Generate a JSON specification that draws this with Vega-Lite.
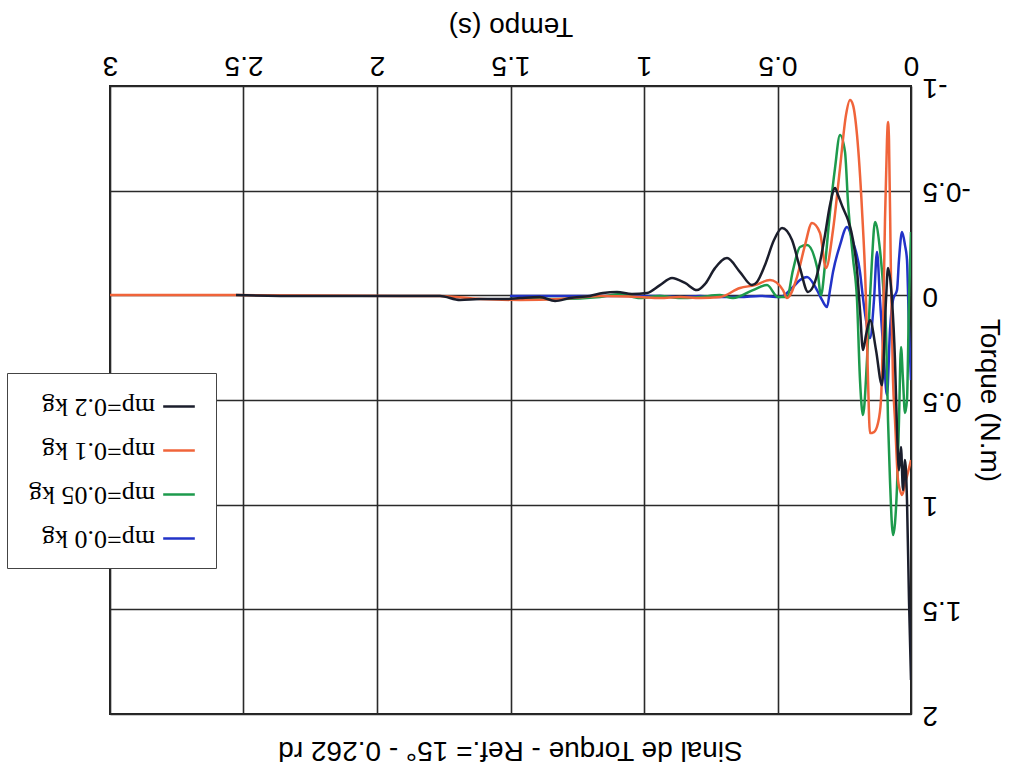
{
  "$schema": "https://vega.github.io/schema/vega-lite/v6.json",
  "width": 801,
  "height": 628,
  "autosize": {"type": "none"},
  "padding": {"left": 110, "top": 86, "right": 99, "bottom": 55},
  "background": "white",
  "title": {"text": "Sinal de Torque - Ref.= 15° - 0.262 rd", "orient": "bottom", "angle": 180, "baseline": "bottom", "anchor": "middle", "frame": "group", "font": "Liberation Sans", "fontSize": 28, "fontWeight": "normal", "color": "black", "offset": 8},
  "config": {"view": {"stroke": "#222", "strokeWidth": 2}},
  "data": {"values": [
    {"s":"mp=0.0 kg","t":0,"v":0.405},{"s":"mp=0.0 kg","t":0.0075,"v":0.166},{"s":"mp=0.0 kg","t":0.015,"v":-0.169},{"s":"mp=0.0 kg","t":0.0225,"v":-0.24},{"s":"mp=0.0 kg","t":0.0337,"v":-0.302},{"s":"mp=0.0 kg","t":0.045,"v":-0.169},{"s":"mp=0.0 kg","t":0.0524,"v":-0.025},{"s":"mp=0.0 kg","t":0.0674,"v":0.022},{"s":"mp=0.0 kg","t":0.0787,"v":0.166},{"s":"mp=0.0 kg","t":0.0899,"v":0.476},{"s":"mp=0.0 kg","t":0.1011,"v":0.309},{"s":"mp=0.0 kg","t":0.1161,"v":0.022},{"s":"mp=0.0 kg","t":0.1273,"v":-0.207},{"s":"mp=0.0 kg","t":0.1386,"v":0.022},{"s":"mp=0.0 kg","t":0.1536,"v":0.204},{"s":"mp=0.0 kg","t":0.1685,"v":0.118},{"s":"mp=0.0 kg","t":0.1798,"v":0.013},{"s":"mp=0.0 kg","t":0.191,"v":-0.111},{"s":"mp=0.0 kg","t":0.2172,"v":-0.255},{"s":"mp=0.0 kg","t":0.2397,"v":-0.326},{"s":"mp=0.0 kg","t":0.2659,"v":-0.24},{"s":"mp=0.0 kg","t":0.2921,"v":-0.111},{"s":"mp=0.0 kg","t":0.3034,"v":-0.025},{"s":"mp=0.0 kg","t":0.3146,"v":0.056},{"s":"mp=0.0 kg","t":0.3333,"v":0.022},{"s":"mp=0.0 kg","t":0.3521,"v":-0.025},{"s":"mp=0.0 kg","t":0.3895,"v":-0.087},{"s":"mp=0.0 kg","t":0.4157,"v":-0.073},{"s":"mp=0.0 kg","t":0.4419,"v":-0.04},{"s":"mp=0.0 kg","t":0.4906,"v":0.008},{"s":"mp=0.0 kg","t":0.5655,"v":0.003},{"s":"mp=0.0 kg","t":0.6404,"v":0.008},{"s":"mp=0.0 kg","t":0.7154,"v":0.008},{"s":"mp=0.0 kg","t":0.7903,"v":0.003},{"s":"mp=0.0 kg","t":0.8652,"v":0.008},{"s":"mp=0.0 kg","t":0.9401,"v":0.003},{"s":"mp=0.0 kg","t":1.015,"v":0.003},{"s":"mp=0.0 kg","t":1.165,"v":0.003},{"s":"mp=0.0 kg","t":1.315,"v":0.003},{"s":"mp=0.0 kg","t":1.502,"v":0.003},

    {"s":"mp=0.05 kg","t":0,"v":-0.302},{"s":"mp=0.05 kg","t":0.0075,"v":0.022},{"s":"mp=0.05 kg","t":0.015,"v":0.5},{"s":"mp=0.05 kg","t":0.0225,"v":0.562},{"s":"mp=0.05 kg","t":0.03,"v":0.405},{"s":"mp=0.05 kg","t":0.0375,"v":0.247},{"s":"mp=0.05 kg","t":0.045,"v":0.596},{"s":"mp=0.05 kg","t":0.0524,"v":0.916},{"s":"mp=0.05 kg","t":0.0674,"v":1.145},{"s":"mp=0.05 kg","t":0.0787,"v":0.883},{"s":"mp=0.05 kg","t":0.0861,"v":0.596},{"s":"mp=0.05 kg","t":0.0936,"v":0.166},{"s":"mp=0.05 kg","t":0.1011,"v":0.013},{"s":"mp=0.05 kg","t":0.1161,"v":-0.216},{"s":"mp=0.05 kg","t":0.1348,"v":-0.35},{"s":"mp=0.05 kg","t":0.1461,"v":-0.169},{"s":"mp=0.05 kg","t":0.1536,"v":0.013},{"s":"mp=0.05 kg","t":0.1648,"v":0.309},{"s":"mp=0.05 kg","t":0.1798,"v":0.572},{"s":"mp=0.05 kg","t":0.191,"v":0.405},{"s":"mp=0.05 kg","t":0.2022,"v":0.022},{"s":"mp=0.05 kg","t":0.2172,"v":-0.178},{"s":"mp=0.05 kg","t":0.236,"v":-0.446},{"s":"mp=0.05 kg","t":0.2472,"v":-0.685},{"s":"mp=0.05 kg","t":0.2659,"v":-0.766},{"s":"mp=0.05 kg","t":0.2846,"v":-0.608},{"s":"mp=0.05 kg","t":0.3034,"v":-0.398},{"s":"mp=0.05 kg","t":0.3221,"v":-0.145},{"s":"mp=0.05 kg","t":0.3371,"v":-0.001},{"s":"mp=0.05 kg","t":0.3521,"v":-0.135},{"s":"mp=0.05 kg","t":0.3895,"v":-0.24},{"s":"mp=0.05 kg","t":0.4157,"v":-0.231},{"s":"mp=0.05 kg","t":0.4419,"v":-0.121},{"s":"mp=0.05 kg","t":0.4644,"v":0.008},{"s":"mp=0.05 kg","t":0.4981,"v":0.008},{"s":"mp=0.05 kg","t":0.5393,"v":-0.049},{"s":"mp=0.05 kg","t":0.5918,"v":-0.025},{"s":"mp=0.05 kg","t":0.6667,"v":0.013},{"s":"mp=0.05 kg","t":0.7154,"v":-0.001},{"s":"mp=0.05 kg","t":0.7903,"v":0.008},{"s":"mp=0.05 kg","t":0.8652,"v":0.013},{"s":"mp=0.05 kg","t":0.9401,"v":0.003},{"s":"mp=0.05 kg","t":1.015,"v":0.013},{"s":"mp=0.05 kg","t":1.09,"v":-0.006},{"s":"mp=0.05 kg","t":1.165,"v":0.008},{"s":"mp=0.05 kg","t":1.315,"v":0.018},{"s":"mp=0.05 kg","t":1.502,"v":0.018},

    {"s":"mp=0.1 kg","t":0,"v":0.787},{"s":"mp=0.1 kg","t":0.0187,"v":0.883},{"s":"mp=0.1 kg","t":0.0337,"v":0.954},{"s":"mp=0.1 kg","t":0.0412,"v":0.93},{"s":"mp=0.1 kg","t":0.0487,"v":0.883},{"s":"mp=0.1 kg","t":0.0599,"v":0.596},{"s":"mp=0.1 kg","t":0.0674,"v":0.405},{"s":"mp=0.1 kg","t":0.0749,"v":-0.073},{"s":"mp=0.1 kg","t":0.0824,"v":-0.742},{"s":"mp=0.1 kg","t":0.0861,"v":-0.828},{"s":"mp=0.1 kg","t":0.0899,"v":-0.742},{"s":"mp=0.1 kg","t":0.0974,"v":-0.36},{"s":"mp=0.1 kg","t":0.1049,"v":0.166},{"s":"mp=0.1 kg","t":0.1124,"v":0.5},{"s":"mp=0.1 kg","t":0.1236,"v":0.61},{"s":"mp=0.1 kg","t":0.1386,"v":0.653},{"s":"mp=0.1 kg","t":0.1536,"v":0.658},{"s":"mp=0.1 kg","t":0.161,"v":0.405},{"s":"mp=0.1 kg","t":0.1685,"v":0.022},{"s":"mp=0.1 kg","t":0.1835,"v":-0.408},{"s":"mp=0.1 kg","t":0.2022,"v":-0.766},{"s":"mp=0.1 kg","t":0.2172,"v":-0.909},{"s":"mp=0.1 kg","t":0.2285,"v":-0.933},{"s":"mp=0.1 kg","t":0.2434,"v":-0.862},{"s":"mp=0.1 kg","t":0.2659,"v":-0.608},{"s":"mp=0.1 kg","t":0.2921,"v":-0.312},{"s":"mp=0.1 kg","t":0.3184,"v":-0.13},{"s":"mp=0.1 kg","t":0.3408,"v":-0.298},{"s":"mp=0.1 kg","t":0.3708,"v":-0.345},{"s":"mp=0.1 kg","t":0.397,"v":-0.24},{"s":"mp=0.1 kg","t":0.427,"v":-0.087},{"s":"mp=0.1 kg","t":0.4644,"v":0.013},{"s":"mp=0.1 kg","t":0.4794,"v":-0.025},{"s":"mp=0.1 kg","t":0.5281,"v":-0.073},{"s":"mp=0.1 kg","t":0.5843,"v":-0.049},{"s":"mp=0.1 kg","t":0.6404,"v":-0.035},{"s":"mp=0.1 kg","t":0.7154,"v":0.008},{"s":"mp=0.1 kg","t":0.7903,"v":0.013},{"s":"mp=0.1 kg","t":0.8652,"v":0.008},{"s":"mp=0.1 kg","t":0.9401,"v":0.013},{"s":"mp=0.1 kg","t":1.015,"v":0.008},{"s":"mp=0.1 kg","t":1.165,"v":0.003},{"s":"mp=0.1 kg","t":1.315,"v":0.018},{"s":"mp=0.1 kg","t":1.464,"v":0.022},{"s":"mp=0.1 kg","t":1.614,"v":0.018},{"s":"mp=0.1 kg","t":1.764,"v":0.003},{"s":"mp=0.1 kg","t":1.914,"v":0.003},{"s":"mp=0.1 kg","t":2.528,"v":-0.001},{"s":"mp=0.1 kg","t":3.0,"v":-0.001},

    {"s":"mp=0.2 kg","t":0,"v":1.838},{"s":"mp=0.2 kg","t":0.0075,"v":1.456},{"s":"mp=0.2 kg","t":0.015,"v":0.978},{"s":"mp=0.2 kg","t":0.0225,"v":0.787},{"s":"mp=0.2 kg","t":0.03,"v":0.93},{"s":"mp=0.2 kg","t":0.0375,"v":0.725},{"s":"mp=0.2 kg","t":0.045,"v":0.835},{"s":"mp=0.2 kg","t":0.0524,"v":0.644},{"s":"mp=0.2 kg","t":0.06,"v":0.309},{"s":"mp=0.2 kg","t":0.0712,"v":0.022},{"s":"mp=0.2 kg","t":0.0861,"v":-0.13},{"s":"mp=0.2 kg","t":0.0936,"v":0.022},{"s":"mp=0.2 kg","t":0.1086,"v":0.429},{"s":"mp=0.2 kg","t":0.1311,"v":0.261},{"s":"mp=0.2 kg","t":0.1536,"v":0.118},{"s":"mp=0.2 kg","t":0.1685,"v":0.19},{"s":"mp=0.2 kg","t":0.1798,"v":0.261},{"s":"mp=0.2 kg","t":0.191,"v":0.07},{"s":"mp=0.2 kg","t":0.2022,"v":-0.121},{"s":"mp=0.2 kg","t":0.2172,"v":-0.264},{"s":"mp=0.2 kg","t":0.236,"v":-0.36},{"s":"mp=0.2 kg","t":0.2547,"v":-0.417},{"s":"mp=0.2 kg","t":0.2734,"v":-0.479},{"s":"mp=0.2 kg","t":0.2846,"v":-0.513},{"s":"mp=0.2 kg","t":0.3034,"v":-0.431},{"s":"mp=0.2 kg","t":0.3221,"v":-0.288},{"s":"mp=0.2 kg","t":0.3408,"v":-0.159},{"s":"mp=0.2 kg","t":0.3596,"v":-0.064},{"s":"mp=0.2 kg","t":0.3858,"v":-0.016},{"s":"mp=0.2 kg","t":0.4157,"v":-0.13},{"s":"mp=0.2 kg","t":0.4457,"v":-0.264},{"s":"mp=0.2 kg","t":0.4831,"v":-0.322},{"s":"mp=0.2 kg","t":0.5131,"v":-0.264},{"s":"mp=0.2 kg","t":0.5468,"v":-0.145},{"s":"mp=0.2 kg","t":0.5768,"v":-0.064},{"s":"mp=0.2 kg","t":0.5955,"v":-0.049},{"s":"mp=0.2 kg","t":0.6404,"v":-0.111},{"s":"mp=0.2 kg","t":0.6891,"v":-0.178},{"s":"mp=0.2 kg","t":0.7341,"v":-0.13},{"s":"mp=0.2 kg","t":0.7715,"v":-0.054},{"s":"mp=0.2 kg","t":0.8015,"v":-0.025},{"s":"mp=0.2 kg","t":0.8464,"v":-0.059},{"s":"mp=0.2 kg","t":0.8951,"v":-0.083},{"s":"mp=0.2 kg","t":0.9401,"v":-0.049},{"s":"mp=0.2 kg","t":0.9888,"v":-0.011},{"s":"mp=0.2 kg","t":1.045,"v":-0.006},{"s":"mp=0.2 kg","t":1.101,"v":-0.016},{"s":"mp=0.2 kg","t":1.154,"v":-0.011},{"s":"mp=0.2 kg","t":1.202,"v":0.003},{"s":"mp=0.2 kg","t":1.277,"v":0.013},{"s":"mp=0.2 kg","t":1.333,"v":0.027},{"s":"mp=0.2 kg","t":1.39,"v":0.008},{"s":"mp=0.2 kg","t":1.464,"v":0.013},{"s":"mp=0.2 kg","t":1.521,"v":0.018},{"s":"mp=0.2 kg","t":1.614,"v":0.018},{"s":"mp=0.2 kg","t":1.689,"v":0.022},{"s":"mp=0.2 kg","t":1.764,"v":0.003},{"s":"mp=0.2 kg","t":1.914,"v":0.003},{"s":"mp=0.2 kg","t":2.026,"v":0.003},{"s":"mp=0.2 kg","t":2.288,"v":0.003},{"s":"mp=0.2 kg","t":2.528,"v":-0.001}
  ]},
  "mark": {"type": "line", "strokeWidth": 2.5, "clip": true, "interpolate": "monotone"},
  "encoding": {
    "x": {
      "field": "t", "type": "quantitative",
      "scale": {"domain": [0, 3], "reverse": true, "nice": false, "zero": false},
      "axis": {"orient": "top", "values": [0, 0.5, 1, 1.5, 2, 2.5, 3], "format": "~g", "title": "Tempo (s)",
        "grid": true, "gridColor": "#2a2a2a", "gridWidth": 1.6, "domain": false, "ticks": false, "tickSize": 0,
        "labelAngle": 180, "labelAlign": "center", "labelBaseline": "top", "labelPadding": 8, "labelFlush": false, "labelOverlap": false,
        "labelFont": "Liberation Sans", "labelFontSize": 28, "labelColor": "black",
        "titleFont": "Liberation Sans", "titleFontSize": 28, "titleFontWeight": "normal", "titleColor": "black",
        "titleAngle": 180, "titleBaseline": "top", "titleAlign": "center", "titleX": 400.5, "titleY": -47}
    },
    "y": {
      "field": "v", "type": "quantitative",
      "scale": {"domain": [-1, 2], "reverse": true, "nice": false, "zero": false},
      "axis": {"orient": "right", "values": [-1, -0.5, 0, 0.5, 1, 1.5, 2], "title": "Torque (N.m)",
        "labelExpr": "datum.value < 0 ? '-' + format(-datum.value, '~g') : format(datum.value, '~g')",
        "grid": true, "gridColor": "#2a2a2a", "gridWidth": 1.6, "domain": false, "ticks": false, "tickSize": 0,
        "labelAngle": 180, "labelAlign": "right", "labelBaseline": "middle", "labelPadding": 11, "labelFlush": false, "labelOverlap": false,
        "labelFont": "Liberation Sans", "labelFontSize": 28, "labelColor": "black",
        "titleFont": "Liberation Sans", "titleFontSize": 28, "titleFontWeight": "normal", "titleColor": "black",
        "titleAngle": 90, "titleBaseline": "middle", "titleAlign": "center", "titleX": 77, "titleY": 314}
    },
    "color": {
      "field": "s", "type": "nominal",
      "scale": {"domain": ["mp=0.2 kg", "mp=0.1 kg", "mp=0.05 kg", "mp=0.0 kg"], "range": ["#1b1e2c", "#f0643a", "#1d9a4c", "#2233c8"]},
      "legend": {"title": null, "orient": "none", "legendX": -103, "legendY": 287, "fillColor": "white", "strokeColor": "#444", "padding": 16,
        "labelFont": "Liberation Serif", "labelFontSize": 26, "labelColor": "black", "labelLimit": 300, "rowPadding": 13,
        "symbolType": "stroke", "symbolSize": 1000, "symbolStrokeWidth": 2.5,
        "encode": {"labels": {"update": {"angle": {"value": 180}, "align": {"value": "left"}, "x": {"value": 132}}}, "symbols": {"update": {"x": {"value": 156}}}}}
    }
  }
}
